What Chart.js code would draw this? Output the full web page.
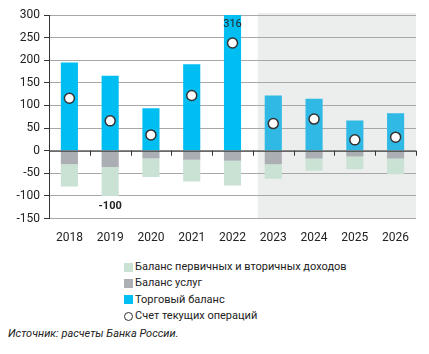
<!DOCTYPE html>
<html>
<head>
<meta charset="utf-8">
<script src="https://cdn.jsdelivr.net/npm/chart.js@4.4.0/dist/chart.umd.min.js"></script>
<style>
  body { margin: 0; background: #fff; font-family: Roboto, sans-serif; }
  #wrap { position: relative; width: 429px; height: 354px; }
  #chart-box { position: absolute; left: 0; top: 0; width: 429px; height: 249px; }
  #legend { position: absolute; left: 124px; top: 259px; font-size: 11px; color: #222; }
  .item { height: 16.3px; line-height: 16px; display: flex; align-items: center; }
  .sw { width: 9px; height: 9px; margin-right: 2px; }
  .dot { width: 7px; height: 7px; border: 1.5px solid #333; border-radius: 50%; margin-right: 2px; box-sizing: content-box; }
  #source { position: absolute; left: 8px; top: 327px; font-size: 11px; font-style: italic; color: #222; }
</style>
</head>
<body>
<div id="wrap">
  <div id="chart-box"><canvas id="balance-chart"></canvas></div>
  <div id="legend">
    <div class="item"><span class="sw" style="background:#c9e2d3"></span>Баланс первичных и вторичных доходов</div>
    <div class="item"><span class="sw" style="background:#abaeb2"></span>Баланс услуг</div>
    <div class="item"><span class="sw" style="background:#00bef2"></span>Торговый баланс</div>
    <div class="item"><span class="dot"></span>Счет текущих операций</div>
  </div>
  <div id="source">Источник: расчеты Банка России.</div>
</div>
<script>
const years = ['2018', '2019', '2020', '2021', '2022', '2023', '2024', '2025', '2026'];
const tradeBalance = [195, 166, 94, 191, 316, 122, 115, 67, 83];
const servicesBalance = [-30, -36, -17, -20, -22, -30, -17, -13, -17];
const incomeBalance = [-49, -64, -41, -48, -55, -32, -27, -28, -35];
const currentAccount = [116, 66, 35, 122, 238, 60, 70, 24, 30];
const yTicks = [300, 250, 200, 150, 100, 50, 0, -50, -100, -150];

const forecastFrom = 5; // 2023 onwards is a forecast
const tradeColors = years.map((y, i) => i >= forecastFrom ? '#30b9e4' : '#00bef2');

// grey background for the forecast years + zero-line ticks
const forecastShade = {
    id: 'forecastShade',
    beforeDraw(chart) {
        const { ctx, chartArea, scales } = chart;
        const step = scales.x.getPixelForValue(1) - scales.x.getPixelForValue(0);
        const x0 = scales.x.getPixelForValue(forecastFrom - 0.5) + step * 0.12;
        ctx.save();
        ctx.fillStyle = '#eceeee';
        ctx.fillRect(x0, chartArea.top - 2, chartArea.right - x0, chartArea.bottom - chartArea.top + 2);
        ctx.restore();
    },
    afterDatasetsDraw(chart) {
        const { ctx, chartArea, scales } = chart;
        const y0 = scales.y.getPixelForValue(0);
        ctx.save();
        ctx.strokeStyle = '#333';
        ctx.lineWidth = 1;
        ctx.beginPath();
        ctx.moveTo(chartArea.left, y0 + 0.5);
        ctx.lineTo(chartArea.right, y0 + 0.5);
        for (let i = 1; i <= years.length; i++) {
            const x = Math.round(scales.x.getPixelForValue(i - 0.5)) + 0.5;
            ctx.moveTo(x, y0);
            ctx.lineTo(x, y0 + 5);
        }
        ctx.stroke();
        ctx.restore();
    }
};

// value labels: 316 on top of the clipped bar, -100 under 2019
const valueLabels = {
    id: 'valueLabels',
    afterDatasetsDraw(chart) {
        const { ctx, chartArea, scales } = chart;
        ctx.save();
        ctx.fillStyle = '#222';
        ctx.textAlign = 'center';
        ctx.textBaseline = 'middle';
        ctx.font = '11px Roboto, sans-serif';
        ctx.fillText(String(tradeBalance[4]), scales.x.getPixelForValue(4), chartArea.top + 9);
        ctx.font = 'bold 11px Roboto, sans-serif';
        const low = servicesBalance[1] + incomeBalance[1];
        ctx.fillText(String(low), scales.x.getPixelForValue(1), scales.y.getPixelForValue(low) + 10);
        ctx.restore();
    }
};

const ctx = document.getElementById('balance-chart').getContext('2d');
new Chart(ctx, {
    data: {
        labels: years,
        datasets: [
            {
                type: 'scatter',
                label: 'Счет текущих операций',
                data: currentAccount.map((v, i) => ({ x: years[i], y: v })),
                backgroundColor: '#fff',
                borderColor: '#333',
                borderWidth: 1.5,
                pointRadius: 5,
                order: 0,
            },
            {
                type: 'bar',
                label: 'Торговый баланс',
                data: tradeBalance,
                backgroundColor: tradeColors,
                order: 1,
            },
            {
                type: 'bar',
                label: 'Баланс услуг',
                data: servicesBalance,
                backgroundColor: '#abaeb2',
                order: 2,
            },
            {
                type: 'bar',
                label: 'Баланс первичных и вторичных доходов',
                data: incomeBalance,
                backgroundColor: '#c9e2d3',
                order: 3,
            },
        ],
    },
    options: {
        responsive: true,
        maintainAspectRatio: false,
        animation: false,
        datasets: { bar: { barPercentage: 0.42, categoryPercentage: 1 } },
        layout: { padding: { top: 15, right: 13, left: 0, bottom: 0 } },
        plugins: { legend: { display: false }, tooltip: { enabled: false } },
        scales: {
            x: {
                type: 'category',
                stacked: true,
                offset: true,
                grid: { display: false },
                border: { display: false },
                ticks: { color: '#222', font: { size: 12, family: 'Roboto' }, padding: 4, maxRotation: 0 },
            },
            y: {
                stacked: true,
                min: -150,
                max: 300,
                afterBuildTicks(scale) { scale.ticks = yTicks.map(v => ({ value: v })); },
                afterFit(scale) { scale.width = 49; },
                grid: { color: '#a8a8a8', tickColor: '#333', tickLength: 5 },
                border: { color: '#333', width: 1 },
                ticks: { color: '#222', font: { size: 12, family: 'Roboto' }, padding: 4 },
            },
        },
    },
    plugins: [forecastShade, valueLabels],
});
</script>
</body>
</html>
